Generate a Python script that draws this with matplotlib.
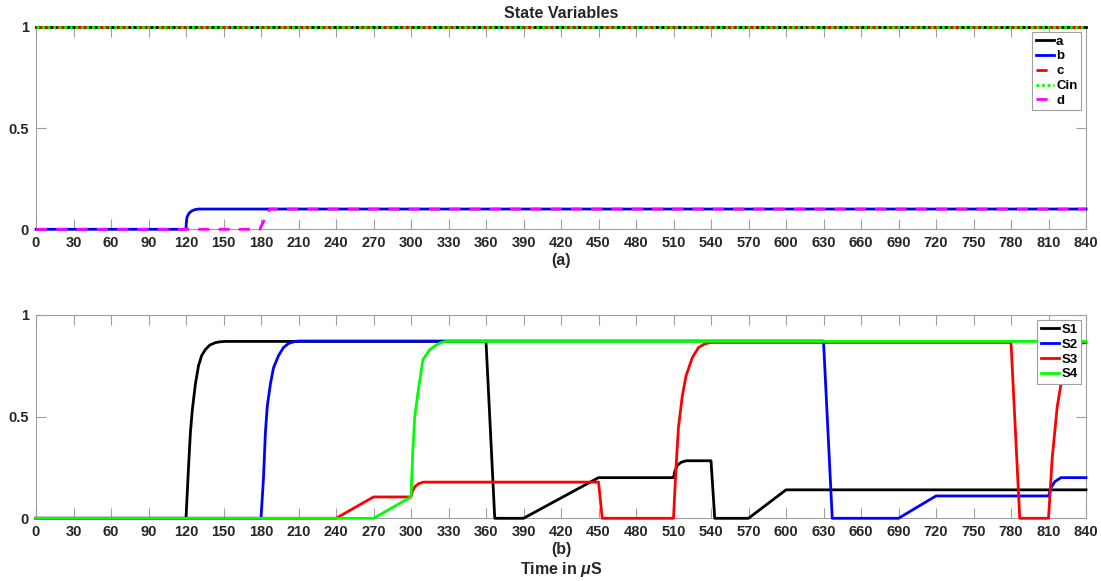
import numpy as np
import matplotlib
matplotlib.use("Agg")
import matplotlib.pyplot as plt

plt.rcParams['font.family'] = ['Liberation Sans', 'DejaVu Sans']
plt.rcParams['font.weight'] = 'bold'
plt.rcParams['axes.labelweight'] = 'bold'
plt.rcParams['mathtext.fontset'] = 'custom'
plt.rcParams['mathtext.it'] = 'Liberation Sans:italic'

# (a) state variables
t_flat = [0, 840]
a_vals = [1, 1]
c_vals = [1, 1]
cin_vals = [1, 1]
t_b = [0, 120, 120.2, 120.8, 122.5, 124.5, 127, 130, 840]
b_vals = [0, 0, 0.03, 0.06, 0.08, 0.09, 0.097, 0.1, 0.1]
t_d = [0, 179, 187, 840]
d_vals = [0, 0, 0.1, 0.1]

# (b) switch signals
t_s1 = [0, 120, 122, 123.5, 125, 127.5, 130, 132.5, 135.5, 139, 143.5, 147, 151.5, 360, 367,
        390, 450, 510, 511, 513, 516, 520, 540, 543, 570, 600, 840]
s1_vals = [0, 0, 0.25, 0.42, 0.53, 0.66, 0.75, 0.8, 0.83, 0.852, 0.864, 0.868, 0.87, 0.87, 0,
           0, 0.2, 0.2, 0.23, 0.26, 0.275, 0.283, 0.283, 0, 0, 0.14, 0.14]
t_s2 = [0, 180, 182, 183.5, 185, 187.5, 190, 194, 198, 202, 206, 210, 630, 637, 690, 720,
        810, 812, 815, 820, 840]
s2_vals = [0, 0, 0.2, 0.42, 0.55, 0.66, 0.74, 0.8, 0.84, 0.86, 0.868, 0.872, 0.872, 0, 0, 0.11,
           0.11, 0.15, 0.18, 0.2, 0.2]
t_s3 = [0, 240, 270, 300, 301, 303, 306, 310, 450, 453, 510, 512, 514, 517, 520, 525,
        530, 535, 540, 780, 787, 810, 813, 817, 820, 823, 828, 835, 840]
s3_vals = [0, 0, 0.105, 0.105, 0.13, 0.155, 0.17, 0.178, 0.178, 0, 0, 0.25, 0.45, 0.6,
           0.7, 0.79, 0.84, 0.858, 0.865, 0.865, 0, 0, 0.3, 0.55, 0.66, 0.75, 0.83, 0.86, 0.865]
t_s4 = [0, 270, 300, 301.5, 303, 305.5, 309.5, 315, 320, 324, 328, 840]
s4_vals = [0, 0, 0.105, 0.34, 0.5, 0.615, 0.78, 0.83, 0.852, 0.864, 0.87, 0.87]

xticks = np.arange(0, 841, 30)
spine_col = '#a0a0a0'
text_col = '#262626'
lw = 2.0
dash = (0, (4, 3.3))
line_kw = dict(lw=lw, clip_on=False, zorder=3)

fig = plt.figure(figsize=(11.01, 5.81), dpi=100)
ax1 = fig.add_axes([36 / 1101, 1 - 229.3 / 581, 1050 / 1101, 202.6 / 581])
ax2 = fig.add_axes([36 / 1101, 1 - 518.3 / 581, 1050 / 1101, 203.3 / 581])

ax1.plot(t_flat, a_vals, color='k', label='a', **line_kw)
ax1.plot(t_b, b_vals, color='#0000ff', label='b', **line_kw)
ax1.plot(t_flat, c_vals, color='#ff0000', ls=dash, label='c', **line_kw)
ax1.plot(t_flat, cin_vals, color='#00ff00', ls=(0, (1, 1)), label='Cin', **line_kw)
ax1.plot(t_d, d_vals, color='#ff00ff', ls=dash, label='d', **line_kw)

ax2.plot(t_s1, s1_vals, color='k', label='S1', **line_kw)
ax2.plot(t_s2, s2_vals, color='#0000ff', label='S2', **line_kw)
ax2.plot(t_s3, s3_vals, color='#ff0000', label='S3', **line_kw)
ax2.plot(t_s4, s4_vals, color='#00ff00', label='S4', **line_kw)

for ax in (ax1, ax2):
    ax.set_xlim(0, 840)
    ax.set_ylim(0, 1)
    ax.set_xticks(xticks)
    ax.set_yticks([0, 0.5, 1])
    ax.set_yticklabels(['0', '0.5', '1'])
    ax.tick_params(direction='in', length=7, width=0.8, color=spine_col,
                   top=True, right=True, labelsize=10.5, labelcolor=text_col, pad=5)
    for sp in ax.spines.values():
        sp.set_color(spine_col)
        sp.set_linewidth(0.8)
    leg = ax.legend(loc='upper right', fontsize=9.5, handlelength=1.4, handletextpad=0.15,
                    labelspacing=0.2, borderpad=0.25, borderaxespad=0.4,
                    fancybox=False, framealpha=1, edgecolor=spine_col)
    leg.get_frame().set_linewidth(0.8)
    leg.set_zorder(5)

ax1.set_title('State Variables', fontsize=11.5, fontweight='bold', color=text_col, pad=6)
ax1.set_xlabel('(a)', fontsize=11.5, color=text_col, labelpad=2)
ax2.set_xlabel('(b)\nTime in $\\mu$S', fontsize=11.5, color=text_col, labelpad=2)

fig.savefig('out.png', dpi=100)
